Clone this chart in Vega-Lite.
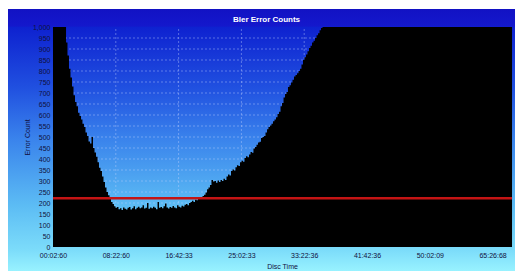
{
  "$schema": "https://vega.github.io/schema/vega-lite/v6.json",
  "width": 507,
  "height": 262,
  "autosize": {"type": "none"},
  "padding": {"left": 8, "top": 9, "right": 0, "bottom": 2},
  "background": "#ffffff",
  "title": {
    "text": "Bler Error Counts",
    "orient": "top",
    "anchor": "middle",
    "frame": "group",
    "offset": -19,
    "baseline": "middle",
    "dx": 5,
    "color": "#ffffff",
    "font": "Liberation Sans",
    "fontSize": 8,
    "fontWeight": "bold"
  },
  "config": {
    "view": {
      "stroke": null,
      "fill": {
        "gradient": "linear",
        "x1": 0, "y1": 0, "x2": 0, "y2": 1,
        "stops": [
          {"offset": 0, "color": "#1212c4"},
          {"offset": 0.065, "color": "#1418cc"},
          {"offset": 0.07, "color": "#0e22d0"},
          {"offset": 0.3, "color": "#2050e0"},
          {"offset": 0.5, "color": "#3a84ec"},
          {"offset": 0.75, "color": "#5cbcf4"},
          {"offset": 0.92, "color": "#7cdcfa"},
          {"offset": 1, "color": "#98f2ff"}
        ]
      }
    },
    "axis": {
      "labelFont": "Liberation Sans",
      "labelFontSize": 7,
      "labelColor": "#101040",
      "titleFont": "Liberation Sans",
      "titleFontSize": 7,
      "titleFontWeight": "normal",
      "titleColor": "#101040",
      "grid": false,
      "domain": false,
      "ticks": false,
      "tickSize": 0,
      "labelOverlap": false,
      "labelFlush": false
    }
  },
  "datasets": {
    "bler": [
      {"t": 0, "count": 1000}, {"t": 1.59, "count": 1000}, {"t": 1.73, "count": 930}, {"t": 1.92, "count": 870},
      {"t": 2.12, "count": 810}, {"t": 2.32, "count": 770}, {"t": 2.52, "count": 730}, {"t": 2.72, "count": 690},
      {"t": 2.92, "count": 659}, {"t": 3.12, "count": 640}, {"t": 3.32, "count": 610}, {"t": 3.52, "count": 595},
      {"t": 3.72, "count": 580}, {"t": 3.91, "count": 560}, {"t": 4.11, "count": 545}, {"t": 4.31, "count": 520},
      {"t": 4.51, "count": 505}, {"t": 4.71, "count": 480}, {"t": 4.91, "count": 470}, {"t": 5.11, "count": 500},
      {"t": 5.31, "count": 450}, {"t": 5.51, "count": 430}, {"t": 5.71, "count": 410}, {"t": 5.91, "count": 385},
      {"t": 6.1, "count": 360}, {"t": 6.3, "count": 345}, {"t": 6.5, "count": 320}, {"t": 6.7, "count": 295},
      {"t": 6.9, "count": 270}, {"t": 7.1, "count": 250}, {"t": 7.3, "count": 235}, {"t": 7.5, "count": 218},
      {"t": 7.7, "count": 205}, {"t": 7.9, "count": 195}, {"t": 8.09, "count": 185}, {"t": 8.29, "count": 178},
      {"t": 8.49, "count": 182}, {"t": 8.69, "count": 172}, {"t": 8.89, "count": 176}, {"t": 9.09, "count": 168},
      {"t": 9.29, "count": 180}, {"t": 9.49, "count": 174}, {"t": 9.69, "count": 170}, {"t": 9.89, "count": 178},
      {"t": 10.08, "count": 182}, {"t": 10.28, "count": 171}, {"t": 10.48, "count": 176}, {"t": 10.68, "count": 185},
      {"t": 10.88, "count": 172}, {"t": 11.08, "count": 178}, {"t": 11.28, "count": 183}, {"t": 11.48, "count": 176},
      {"t": 11.68, "count": 180}, {"t": 11.88, "count": 190}, {"t": 12.08, "count": 175}, {"t": 12.27, "count": 178},
      {"t": 12.47, "count": 200}, {"t": 12.67, "count": 174}, {"t": 12.87, "count": 180}, {"t": 13.07, "count": 176},
      {"t": 13.27, "count": 183}, {"t": 13.47, "count": 178}, {"t": 13.67, "count": 172}, {"t": 13.87, "count": 205},
      {"t": 14.07, "count": 178}, {"t": 14.26, "count": 182}, {"t": 14.46, "count": 176}, {"t": 14.66, "count": 185},
      {"t": 14.86, "count": 198}, {"t": 15.06, "count": 180}, {"t": 15.26, "count": 175}, {"t": 15.46, "count": 182},
      {"t": 15.66, "count": 178}, {"t": 15.86, "count": 186}, {"t": 16.06, "count": 180}, {"t": 16.26, "count": 176},
      {"t": 16.46, "count": 190}, {"t": 16.66, "count": 183}, {"t": 16.86, "count": 180}, {"t": 17.05, "count": 188},
      {"t": 17.25, "count": 184}, {"t": 17.45, "count": 192}, {"t": 17.65, "count": 196}, {"t": 17.85, "count": 190},
      {"t": 18.05, "count": 200}, {"t": 18.25, "count": 205}, {"t": 18.44, "count": 210}, {"t": 18.64, "count": 204},
      {"t": 18.84, "count": 215}, {"t": 19.04, "count": 212}, {"t": 19.24, "count": 222}, {"t": 19.44, "count": 218},
      {"t": 19.64, "count": 226}, {"t": 19.84, "count": 232}, {"t": 20.04, "count": 238}, {"t": 20.24, "count": 248},
      {"t": 20.44, "count": 262}, {"t": 20.63, "count": 270}, {"t": 20.83, "count": 282}, {"t": 21.03, "count": 305},
      {"t": 21.23, "count": 298}, {"t": 21.43, "count": 300}, {"t": 21.63, "count": 292}, {"t": 21.83, "count": 302},
      {"t": 22.03, "count": 296}, {"t": 22.23, "count": 305}, {"t": 22.43, "count": 300}, {"t": 22.62, "count": 310},
      {"t": 22.82, "count": 305}, {"t": 23.02, "count": 320}, {"t": 23.22, "count": 330}, {"t": 23.42, "count": 325},
      {"t": 23.62, "count": 345}, {"t": 23.82, "count": 352}, {"t": 24.02, "count": 348}, {"t": 24.21, "count": 362},
      {"t": 24.41, "count": 372}, {"t": 24.61, "count": 368}, {"t": 24.81, "count": 385}, {"t": 25.01, "count": 392},
      {"t": 25.21, "count": 388}, {"t": 25.41, "count": 405}, {"t": 25.61, "count": 412}, {"t": 25.81, "count": 408},
      {"t": 26.01, "count": 420}, {"t": 26.21, "count": 432}, {"t": 26.41, "count": 428}, {"t": 26.6, "count": 448},
      {"t": 26.8, "count": 455}, {"t": 27.0, "count": 465}, {"t": 27.2, "count": 475}, {"t": 27.4, "count": 478},
      {"t": 27.6, "count": 495}, {"t": 27.8, "count": 500}, {"t": 28.0, "count": 505}, {"t": 28.2, "count": 520},
      {"t": 28.4, "count": 535}, {"t": 28.59, "count": 545}, {"t": 28.79, "count": 552}, {"t": 28.99, "count": 560},
      {"t": 29.19, "count": 572}, {"t": 29.39, "count": 580}, {"t": 29.59, "count": 590}, {"t": 29.79, "count": 605},
      {"t": 29.99, "count": 615}, {"t": 30.19, "count": 640}, {"t": 30.39, "count": 655}, {"t": 30.59, "count": 680},
      {"t": 30.79, "count": 695}, {"t": 30.98, "count": 705}, {"t": 31.18, "count": 727}, {"t": 31.38, "count": 735},
      {"t": 31.58, "count": 748}, {"t": 31.78, "count": 760}, {"t": 31.98, "count": 775}, {"t": 32.18, "count": 782},
      {"t": 32.38, "count": 790}, {"t": 32.58, "count": 800}, {"t": 32.78, "count": 810}, {"t": 32.97, "count": 830},
      {"t": 33.17, "count": 850}, {"t": 33.37, "count": 862}, {"t": 33.57, "count": 875}, {"t": 33.77, "count": 890},
      {"t": 33.97, "count": 905}, {"t": 34.17, "count": 915}, {"t": 34.37, "count": 930}, {"t": 34.57, "count": 938},
      {"t": 34.77, "count": 950}, {"t": 34.97, "count": 962}, {"t": 35.17, "count": 972}, {"t": 35.37, "count": 985},
      {"t": 35.56, "count": 995}, {"t": 35.76, "count": 1000}, {"t": 60.91, "count": 1000}
    ],
    "hgrid": [
      {"level": 50}, {"level": 100}, {"level": 150}, {"level": 200}, {"level": 250}, {"level": 300},
      {"level": 350}, {"level": 400}, {"level": 450}, {"level": 500}, {"level": 550}, {"level": 600},
      {"level": 650}, {"level": 700}, {"level": 750}, {"level": 800}, {"level": 850}, {"level": 900},
      {"level": 950}
    ],
    "vgrid": [
      {"tick": 8.3333}, {"tick": 16.6667}, {"tick": 25}, {"tick": 33.3333}, {"tick": 41.6667}, {"tick": 50}, {"tick": 58.3333}
    ],
    "threshold": [{"limit": 222}]
  },
  "encoding": {
    "x": {
      "type": "quantitative",
      "scale": {"domain": [-5.971, 61.305], "nice": false, "zero": false},
      "axis": {
        "title": "Disc Time",
        "offset": -24,
        "values": [0, 8.3333, 16.6667, 25, 33.3333, 41.6667, 50, 58.3333],
        "labelExpr": "['00:02:60','08:22:60','16:42:33','25:02:33','33:22:36','41:42:36','50:02:09','65:26:68'][round(datum.value / 8.3333)]",
        "labelPadding": 4,
        "titleX": 274,
        "titleY": 15,
        "titleBaseline": "top"
      }
    },
    "y": {
      "type": "quantitative",
      "scale": {"domain": [-109.09, 1081.82], "nice": false, "zero": false},
      "axis": {
        "title": "Error Count",
        "offset": -45,
        "values": [0, 50, 100, 150, 200, 250, 300, 350, 400, 450, 500, 550, 600, 650, 700, 750, 800, 850, 900, 950, 1000],
        "labelPadding": 3,
        "titleX": -26,
        "titleY": 128,
        "titleAngle": -90,
        "titleBaseline": "middle",
        "titleAlign": "center"
      }
    }
  },
  "layer": [
    {
      "data": {"name": "hgrid"},
      "mark": {"type": "rule", "color": "#c8d8ff", "strokeWidth": 1, "strokeDash": [2, 2], "opacity": 0.4},
      "encoding": {
        "y": {"field": "level"},
        "x": {"datum": 0},
        "x2": {"datum": 60.91}
      }
    },
    {
      "data": {"name": "vgrid"},
      "mark": {"type": "rule", "color": "#c8d8ff", "strokeWidth": 1, "strokeDash": [2, 2], "opacity": 0.4},
      "encoding": {
        "x": {"field": "tick"},
        "y": {"datum": 0},
        "y2": {"datum": 1000}
      }
    },
    {
      "data": {"name": "bler"},
      "mark": {"type": "area", "color": "#000000", "interpolate": "step-after"},
      "encoding": {
        "x": {"field": "t"},
        "y": {"field": "count"}
      }
    },
    {
      "data": {"name": "threshold"},
      "mark": {"type": "rule", "color": "#c41414", "strokeWidth": 2.5},
      "encoding": {
        "y": {"field": "limit"},
        "x": {"datum": 0},
        "x2": {"datum": 60.91}
      }
    }
  ]
}
